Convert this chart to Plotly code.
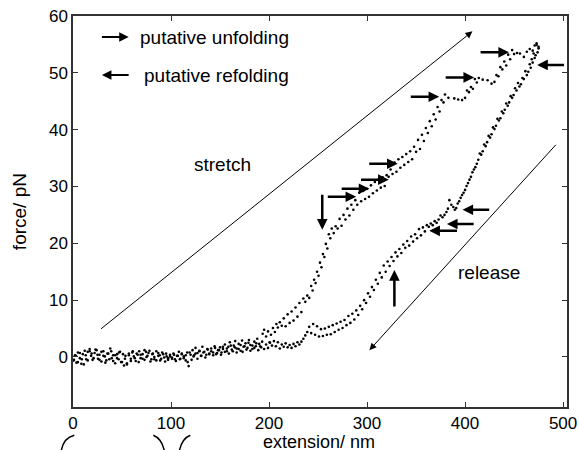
import plotly.graph_objects as go

# ---------------- data ----------------
stretch_x = [0.5, 2, 3.5, 5, 7, 8.5, 10, 12, 13.5, 15, 17, 18.5, 20, 22, 24, 25.5, 27, 29, 31, 32.5,
             34, 36, 38, 39.5, 41, 43, 45, 46.5, 48, 50, 52, 53.5, 55, 57, 59, 60.5, 62, 64, 66, 67.5,
             69, 71, 73, 74.5, 76, 78, 80, 81.5, 83, 85, 87, 88.5, 90, 92, 94, 95.5, 97, 99, 101, 102.5,
             104, 106, 108, 109.5, 111, 113, 115, 116.5, 118, 120, 122, 123.5, 125, 127, 129, 130.5, 132, 134, 136, 137.5,
             139, 141, 143, 144.5, 146, 148, 150, 151.5, 153, 155, 157, 158.5, 160, 162, 164, 165.5, 167, 169, 171, 172.5,
             174, 176, 178, 179.5, 181, 183, 185, 186.5, 188, 190, 192, 193.5, 195, 197, 199, 200.5, 202, 204, 206, 207.5,
             209, 211, 213,
             215, 217, 219, 221, 223, 225, 227, 229, 231, 233, 235, 237, 239, 241, 243, 244.5, 246, 247.5, 249, 250.5,
             252, 253.5, 255, 256.5, 258, 259.5, 261, 262.5, 264, 266, 268, 270, 272, 274, 276, 278, 280, 282, 284, 286,
             288, 290, 292, 294, 296, 298, 300, 302, 304, 306, 308, 310, 312, 314, 316, 318, 320, 322, 324, 326,
             328, 330, 332, 334, 336, 338, 340, 342, 344, 346, 348, 350, 352, 354, 356, 358, 360, 362, 364, 366,
             368, 370, 372, 374, 376, 378, 379.5, 383, 389, 393, 397, 400, 402, 404, 406, 408, 410, 412, 414, 418,
             423, 427, 430, 432, 434, 436, 438, 440, 442, 444, 446, 448, 450, 453, 456, 460, 463, 466, 469, 471,
             473, 475]
stretch_y = [-0.6, 0.3, -1.0, 0.8, -0.2, -1.2, 0.5, 1.1, -0.4, 0.9, 1.4, 0.2, -0.5, 0.7, 1.2, -0.3, 0.4, -0.8, 1.0, 0.1,
             -0.6, 0.6, 1.5, -0.2, 0.3, -1.1, 0.5, -0.4, 0.9, -0.9, -1.5, 0.2, -1.3, 0.6, -0.3, 0.8, 0.1, -0.7, 0.4, 1.0,
             -0.2, 0.5, -0.5, 0.9, 0.2, 1.1, -0.4, 0.6, 0.0, -0.6, 0.7, 0.3, -0.3, 0.5, -0.8, 0.1, -0.2, 0.4, -0.1, 0.6,
             -0.4, 0.2, 0.9, -0.3, 0.5, 0.1, -0.6, 0.8, -1.6, 0.4, 1.2, 0.3, 1.6, 0.7, 1.1, 0.2, 1.8, 0.9, 0.4, 1.3,
             0.6, 1.5, 0.8, 1.9, 0.5, 1.2, 1.7, 0.8, 1.4, 2.2, 1.0, 1.8, 2.6, 1.3, 2.0, 2.8, 1.5, 2.3, 1.1, 2.9,
             1.8, 2.4, 1.6, 3.0, 2.1, 1.4, 2.7, 1.9, 3.2, 2.3, 1.7, 4.1, 4.8, 3.6, 4.5, 2.6, 3.9, 5.1, 4.4, 5.8,
             5.2, 6.1, 5.5,
             6.8, 5.4, 7.5, 6.0, 8.0, 6.4, 8.7, 7.1, 9.5, 7.9, 10.3, 9.7, 10.8, 10.4, 12.5, 11.7, 13.6, 13.0, 15.0, 14.3,
             16.6, 15.8, 18.1, 17.6, 19.9, 19.1, 21.6, 20.9, 22.6, 21.8, 23.0, 22.6, 24.3, 23.1, 25.0, 24.2, 26.1, 24.9, 26.8, 25.9,
             27.6, 26.8, 28.9, 27.4, 29.2, 27.8, 29.6, 28.2, 30.2, 28.8, 30.8, 29.3, 31.3, 29.8, 31.6, 30.1, 32.0, 31.7, 33.0, 32.2,
             34.2, 32.6, 34.8, 33.3, 35.2, 33.8, 35.7, 34.3, 36.2, 34.8, 37.0, 36.1, 38.2, 36.6, 39.1, 38.0, 40.3, 39.4, 41.5, 40.6,
             42.7, 41.8, 44.0, 43.2, 45.2, 44.8, 46.2, 45.6, 45.5, 45.3, 45.2, 45.6, 46.9, 46.6, 47.5, 47.2, 48.9, 48.3, 49.1, 48.8,
             48.7, 48.1, 48.4, 49.6, 49.4, 51.0, 50.6, 52.0, 51.3, 53.2, 52.4, 54.0, 53.3, 53.5, 53.4, 52.8, 53.7, 54.2, 53.9, 54.8,
             55.2, 54.6]

release_x = [475, 474, 473, 472, 471, 470, 469, 468, 467, 466, 464.5, 463, 461.5, 460, 458.5, 457, 455.5, 454, 452.5, 451,
             449.5, 448, 446.5, 445, 443.5, 442, 440.5, 439, 437.5, 436, 434.5, 433, 431.5, 430, 428.5, 427, 425.5, 424, 422.5, 421,
             419.5, 418, 416.5, 415, 413.5, 412, 410.5, 409, 407.5, 406, 404.5, 403, 401.5, 400, 398.5, 397, 395.5, 394, 392.5, 391,
             389.5, 388, 386, 384, 382.5, 381, 379, 377, 375, 373, 371, 369, 367, 365, 363,
             361, 359, 357, 355, 353, 351, 349, 347, 345, 343, 341, 339, 337, 335, 333, 331, 329, 327, 325, 323,
             321, 319, 317, 315, 313, 311, 309, 307, 305, 303, 301, 299, 297, 295, 293, 291, 289, 287, 285, 283,
             281, 279, 277, 275, 273, 271, 269, 267, 265, 263, 261, 259, 257, 255, 253, 251, 249, 247, 245, 243,
             241, 239, 237, 235, 233, 231, 229, 227, 225, 223, 221, 219, 217, 215, 213, 211, 209, 207, 205, 203,
             201, 199, 197, 195, 193, 191, 189, 187, 185, 183, 181, 179, 177, 175, 173, 171, 169, 167, 165, 163,
             161, 159, 157, 155, 153, 151, 149, 147, 145, 143, 141, 139, 137, 135, 133, 131, 129, 127, 125, 123,
             121, 119, 117, 115, 113, 111, 109, 107, 105, 103, 101, 99, 97, 95, 93, 91, 89, 87, 85, 83,
             81, 79, 77, 75, 73, 71, 69, 67, 65, 63, 61, 59, 57, 55, 53, 51, 49, 47, 45, 43,
             41, 39, 37, 35, 33, 31, 29, 27, 25, 23, 21, 19, 17, 15, 13, 11, 9, 7, 5, 3, 1]
release_y = [54.3, 53.6, 54.9, 53.1, 52.6, 53.4, 51.8, 52.4, 50.9, 51.5, 50.2, 49.6, 50.3, 48.9, 49.1, 48.0, 47.6, 48.2, 46.9, 47.3,
             46.1, 45.6, 45.9, 44.8, 44.2, 44.6, 43.5, 42.9, 43.2, 42.0, 41.6, 41.9, 40.7, 40.1, 40.4, 39.2, 38.6, 38.9, 37.8, 37.1,
             37.4, 36.2, 35.6, 35.8, 34.7, 34.0, 33.4, 33.0, 32.5, 31.7, 31.2, 30.6, 30.1, 29.4, 28.9, 28.5, 28.0, 27.4, 27.0, 26.2,
             25.9, 26.4, 26.8, 27.6, 26.1, 25.5, 25.0, 24.6, 24.9, 24.2, 23.6, 23.9, 23.2, 23.5, 22.9,
             23.2, 22.1, 22.8, 21.4, 22.5, 20.9, 21.6, 20.3, 21.2, 19.6, 20.4, 19.2, 19.8, 18.3, 19.0, 17.7, 18.4, 16.9, 17.6, 16.0,
             16.8, 15.0, 16.1, 14.0, 14.8, 12.9, 13.6, 11.8, 12.3, 10.6, 11.2, 9.5, 10.0, 8.4, 9.0, 7.4, 8.2, 6.6, 7.6, 6.0,
             7.2, 5.6, 6.5, 5.1, 6.2, 4.8, 5.9, 4.4, 5.6, 4.0, 5.3, 3.9, 5.0, 3.7, 4.9, 3.6, 5.4, 3.9, 5.8, 4.2,
             5.3, 4.4, 3.8, 3.2, 2.7, 2.2, 2.6, 1.9, 2.3, 1.6, 2.1, 1.7, 2.4, 1.8, 2.2, 1.5, 2.6, 1.9, 2.8, 2.0,
             2.5, 1.6, 2.2, 1.4, 2.7, 1.9, 1.2, 2.4, 1.6, 2.0, 1.1, 2.5, 1.3, 1.9, 0.9, 2.1, 1.4, 0.8, 1.7, 1.0,
             2.0, 0.6, 1.5, 0.9, 1.8, 0.4, 1.2, 0.7, 1.6, 0.3, 1.0, 0.5, 1.4, -0.1, 0.8, 0.2, 1.0, -0.3, 0.6, 0.1,
             -0.5, 0.8, -0.9, 0.3, -0.2, 0.6, -0.4, 0.2, -0.7, 0.4, -0.3, 0.1, -0.5, 0.6, -0.1, 0.8, -0.6, 0.2, 1.0, -0.4,
             0.5, -0.8, 0.7, 0.0, 1.2, -0.3, 0.4, -0.9, 0.6, -0.2, 1.0, -0.7, 0.3, -1.1, -0.3, 0.5, -0.9, 0.8, -0.2, 0.3,
             -0.7, 1.0, -0.4, 0.6, -1.0, 0.2, 0.9, -0.5, 0.4, 1.3, -0.2, 0.6, 1.0, -0.6, 0.3, -1.3, -0.4, 0.7, -0.9, 0.2, -0.5]

x_ticks = [0, 100, 200, 300, 400, 500]
y_ticks = [0, 10, 20, 30, 40, 50, 60]

# arrows: (tip_x, tip_y, tail_x, tail_y)
unfold_arrows = [(444.8, 53.6, 414.3, 53.6), (409.2, 49.2, 378.7, 49.2), (373.6, 45.8, 343.1, 45.8),
                 (331.2, 34.0, 300.7, 34.0), (322.1, 31.2, 292.3, 31.2), (302.4, 29.6, 272.6, 29.6),
                 (288.9, 28.2, 258.4, 28.2)]
refold_arrows = [(473.6, 51.4, 502.5, 51.4), (397.4, 25.9, 426.2, 25.9), (381.5, 23.4, 410.3, 23.4),
                 (363.5, 22.2, 393.3, 22.2)]
vertical_arrows = [(254.3, 22.4, 254.3, 28.8), (327.9, 15.3, 327.9, 8.6)]
guide_arrows = [(407.5, 57.3, 27.1, 4.75), (302.4, 1.2, 494.0, 37.6)]
key_arrows = [(56.8, 56.3, 28.0, 56.3), (29.5, 49.6, 58.3, 49.6)]

FONT = "Liberation Sans, Arial, Helvetica, sans-serif"

fig = go.Figure()
fig.add_trace(go.Scatter(x=stretch_x, y=stretch_y, mode="markers",
                         marker=dict(color="black", size=2.6), showlegend=False, hoverinfo="skip"))
fig.add_trace(go.Scatter(x=release_x, y=release_y, mode="markers",
                         marker=dict(color="black", size=2.6), showlegend=False, hoverinfo="skip"))

def arrow(tip_x, tip_y, tail_x, tail_y, width, size, head=2):
    fig.add_annotation(x=tip_x, y=tip_y, ax=tail_x, ay=tail_y, xref="x", yref="y",
                       axref="x", ayref="y", text="", showarrow=True, arrowhead=head,
                       arrowwidth=width, arrowsize=size, arrowcolor="black", standoff=0)

for a in unfold_arrows + refold_arrows + vertical_arrows:
    arrow(*a, width=2.5, size=0.85)
for a in key_arrows:
    arrow(*a, width=2.0, size=0.95)
for a in guide_arrows:
    arrow(*a, width=1.0, size=1.4)

texts = [("putative unfolding", 66.7, 56.3, "left"), ("putative refolding", 70.2, 49.6, "left"),
         ("stretch", 152.9, 33.8, "center"), ("release", 424.5, 14.8, "center")]
for t, tx, ty, anc in texts:
    fig.add_annotation(x=tx, y=ty, xref="x", yref="y", text=t, showarrow=False,
                       xanchor=anc, yanchor="middle", font=dict(family=FONT, size=19, color="black"))

# axis titles
fig.add_annotation(x=-0.108, y=0.5, xref="paper", yref="paper", text="force/ pN", textangle=-90,
                   showarrow=False, xanchor="center", yanchor="middle",
                   font=dict(family=FONT, size=19, color="black"))
fig.add_annotation(x=0.498, y=-0.089, xref="paper", yref="paper", text="extension/ nm",
                   showarrow=False, xanchor="center", yanchor="middle",
                   font=dict(family=FONT, size=18, color="black"))

# partial arcs visible at bottom edge of the crop
for p in ["M 0.0026,-0.0724 Q -0.0186,-0.0788 -0.0237,-0.1108",
          "M 0.1626,-0.0724 Q 0.1788,-0.0801 0.1848,-0.1108",
          "M 0.2374,-0.0724 Q 0.2213,-0.0801 0.2154,-0.1108"]:
    fig.add_shape(type="path", path=p, xref="paper", yref="paper",
                  line=dict(color="black", width=1.5))

axis_common = dict(showline=True, linecolor="#333333", linewidth=1.5, mirror="ticks",
                   ticks="inside", ticklen=5, tickwidth=1, tickcolor="#333333",
                   showgrid=False, zeroline=False, automargin=False,
                   tickfont=dict(family=FONT, size=17, color="black"))
fig.update_xaxes(range=[0, 504], tickvals=x_ticks, ticktext=[str(v) for v in x_ticks], **axis_common)
fig.update_yaxes(range=[-8.8, 60], tickvals=y_ticks, ticktext=[str(v) for v in y_ticks], **axis_common)

fig.update_layout(width=579, height=450, margin=dict(l=73, r=12, t=16, b=43),
                  paper_bgcolor="white", plot_bgcolor="white")

fig.write_html("out.html")
